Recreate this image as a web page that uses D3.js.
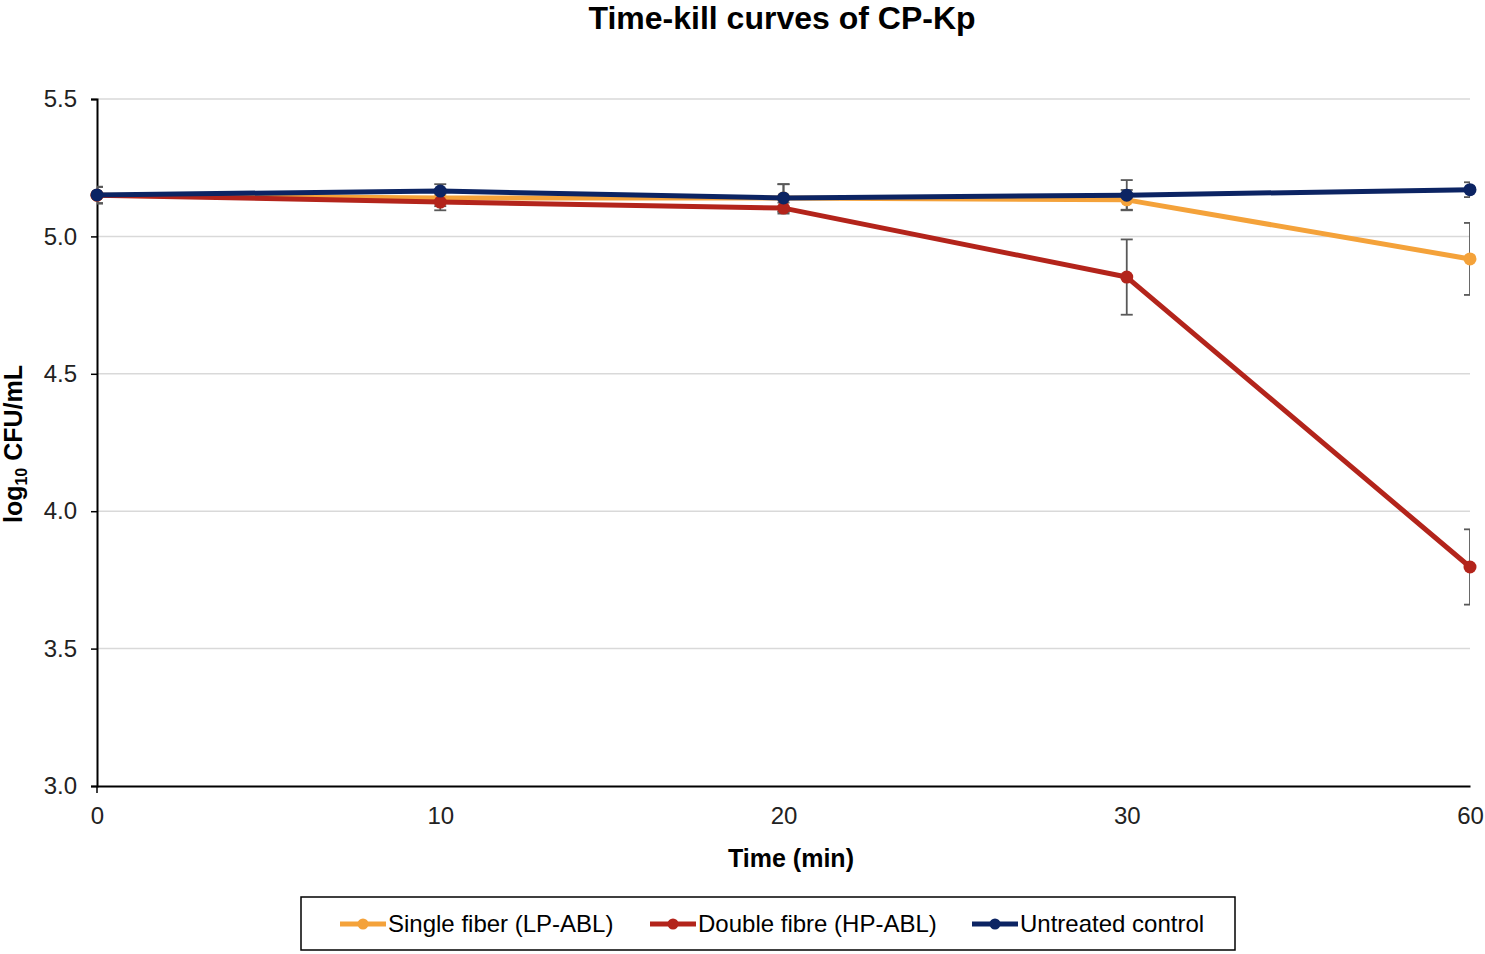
<!DOCTYPE html>
<html>
<head>
<meta charset="utf-8">
<script src="https://cdn.jsdelivr.net/npm/d3@7"></script>
<style>
  body { margin: 0; background: #fff; }
  svg { font-family: "Liberation Sans", Arial, sans-serif; }
</style>
</head>
<body>
<svg id="chart" width="1485" height="954"></svg>
<script>
// Data
const times = ['0', '10', '20', '30', '60'];
const seriesNames = ['Single fiber (LP-ABL)', 'Double fibre (HP-ABL)', 'Untreated control'];
const seriesColors = ['#F4A23A', '#B3241B', '#0C2463'];
const singleFiber = [5.15, 5.14, 5.14, 5.133, 4.918];
const singleFiberSd = [0.03, 0.03, 0.05, 0.036, 0.131];
const doubleFibre = [5.15, 5.125, 5.103, 4.852, 3.797];
const doubleFibreSd = [0.03, 0.03, 0.02, 0.137, 0.137];
const untreated = [5.151, 5.165, 5.14, 5.15, 5.17];
const untreatedSd = [0.03, 0.025, 0.05, 0.055, 0.027];
const yTicks = [3.0, 3.5, 4.0, 4.5, 5.0, 5.5];

const series = [
  { name: seriesNames[0], color: seriesColors[0], values: singleFiber, sd: singleFiberSd },
  { name: seriesNames[1], color: seriesColors[1], values: doubleFibre, sd: doubleFibreSd },
  { name: seriesNames[2], color: seriesColors[2], values: untreated, sd: untreatedSd }
];

const plotL = 97, plotR = 1470, plotT = 99, plotB = 786;

const svg = d3.select('#chart');

const x = d3.scalePoint().domain(times).range([plotL, plotR]);
const y = d3.scaleLinear().domain([3.0, 5.5]).range([plotB, plotT]);

// Gridlines
svg.append('g')
  .selectAll('line')
  .data(yTicks.filter(d => d > 3.0))
  .enter()
  .append('line')
  .attr('x1', plotL).attr('x2', plotR)
  .attr('y1', d => y(d)).attr('y2', d => y(d))
  .attr('stroke', '#d9d9d9')
  .attr('stroke-width', 1.5);

// Y axis
const yAxis = svg.append('g')
  .attr('transform', `translate(${plotL},0)`)
  .call(d3.axisLeft(y).tickValues(yTicks).tickFormat(d3.format('.1f')).tickSize(6).tickPadding(14));
yAxis.select('.domain').attr('stroke', '#000').attr('stroke-width', 2);
yAxis.selectAll('.tick line').attr('stroke', '#000').attr('stroke-width', 1.5);
yAxis.selectAll('.tick text')
  .attr('font-size', '24px')
  .attr('fill', '#222')
  .attr('font-family', '"Liberation Sans", Arial, sans-serif');

// X axis
const xAxis = svg.append('g')
  .attr('transform', `translate(0,${plotB})`)
  .call(d3.axisBottom(x).tickSize(0).tickPadding(21));
xAxis.select('.domain').attr('stroke', '#000').attr('stroke-width', 2);
xAxis.selectAll('.tick text')
  .attr('font-size', '24px')
  .attr('fill', '#222')
  .attr('font-family', '"Liberation Sans", Arial, sans-serif');
svg.append('line')
  .attr('x1', plotL).attr('x2', plotL)
  .attr('y1', plotB).attr('y2', plotB + 7)
  .attr('stroke', '#000').attr('stroke-width', 1.5);

// Clip for error bars
svg.append('defs').append('clipPath')
  .attr('id', 'plot-clip')
  .append('rect')
  .attr('x', plotL).attr('y', plotT - 20)
  .attr('width', plotR - plotL).attr('height', plotB - plotT + 20);

// Error bars
const errG = svg.append('g').attr('clip-path', 'url(#plot-clip)');
series.forEach(s => {
  const g = errG.append('g');
  times.forEach((t, i) => {
    const cx = x(t);
    const y0 = y(s.values[i] - s.sd[i]);
    const y1 = y(s.values[i] + s.sd[i]);
    g.append('line')
      .attr('x1', cx).attr('x2', cx).attr('y1', y0).attr('y2', y1)
      .attr('stroke', '#595959').attr('stroke-width', 1.8);
    [y0, y1].forEach(yy => {
      g.append('line')
        .attr('x1', cx - 6).attr('x2', cx + 6).attr('y1', yy).attr('y2', yy)
        .attr('stroke', '#595959').attr('stroke-width', 1.8);
    });
  });
});

// Lines and markers
const line = d3.line()
  .x((d, i) => x(times[i]))
  .y(d => y(d));

series.forEach(s => {
  svg.append('path')
    .datum(s.values)
    .attr('fill', 'none')
    .attr('stroke', s.color)
    .attr('stroke-width', 5)
    .attr('stroke-linejoin', 'round')
    .attr('d', line);
  svg.append('g')
    .selectAll('circle')
    .data(s.values)
    .enter()
    .append('circle')
    .attr('cx', (d, i) => x(times[i]))
    .attr('cy', d => y(d))
    .attr('r', 6.5)
    .attr('fill', s.color);
});

// Title
svg.append('text')
  .attr('x', 782)
  .attr('y', 29)
  .attr('text-anchor', 'middle')
  .attr('font-size', '32px')
  .attr('font-weight', 'bold')
  .attr('fill', '#000')
  .text('Time-kill curves of CP-Kp');

// Axis titles
svg.append('text')
  .attr('x', 791)
  .attr('y', 867)
  .attr('text-anchor', 'middle')
  .attr('font-size', '25px')
  .attr('font-weight', 'bold')
  .attr('fill', '#000')
  .text('Time (min)');

const yTitle = svg.append('text')
  .attr('transform', `translate(22,444) rotate(-90)`)
  .attr('text-anchor', 'middle')
  .attr('font-size', '25px')
  .attr('font-weight', 'bold')
  .attr('fill', '#000');
yTitle.append('tspan').text('log');
yTitle.append('tspan').attr('font-size', '16px').attr('dy', 5).text('10');
yTitle.append('tspan').attr('dy', -5).text(' CFU/mL');

// Legend
svg.append('rect')
  .attr('x', 301).attr('y', 897)
  .attr('width', 934).attr('height', 53)
  .attr('fill', '#fff')
  .attr('stroke', '#000')
  .attr('stroke-width', 1.5);

const legendX = [340, 650, 972];
series.forEach((s, i) => {
  const g = svg.append('g').attr('transform', `translate(${legendX[i]},924)`);
  g.append('line')
    .attr('x1', 0).attr('x2', 46)
    .attr('stroke', s.color).attr('stroke-width', 5);
  g.append('circle')
    .attr('cx', 23).attr('r', 5.5).attr('fill', s.color);
  g.append('text')
    .attr('x', 48).attr('dy', '0.35em')
    .attr('font-size', '24px')
    .attr('fill', '#000')
    .text(s.name);
});
</script>
</body>
</html>
